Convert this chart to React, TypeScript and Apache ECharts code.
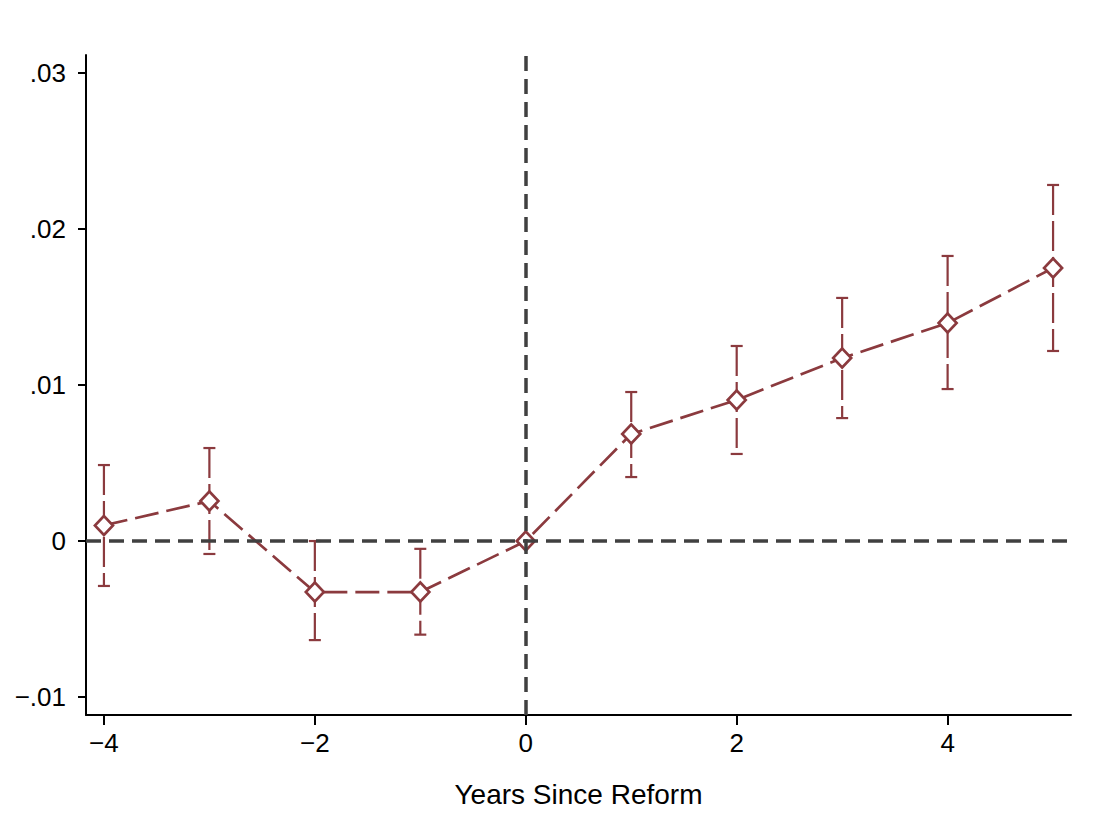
import React, { useEffect, useRef } from "react";
import * as echarts from "echarts";

const years = [-4, -3, -2, -1, 0, 1, 2, 3, 4, 5];
const coef = [0.001, 0.00256, -0.00327, -0.00327, 0, 0.00686, 0.00904, 0.01173, 0.01397, 0.0175];
const ciLow = [-0.00288, -0.00083, -0.00635, -0.006, null, 0.0041, 0.00558, 0.00788, 0.00974, 0.01218];
const ciHigh = [0.00487, 0.00596, 0, -0.0005, null, 0.00955, 0.0125, 0.01558, 0.01827, 0.02282];
const xTicks = [-4, -2, 0, 2, 4];
const yTicks = [-0.01, 0, 0.01, 0.02, 0.03];

const MAROON = "#8b3a3e";
const GRAY = "#404040";
const FONT = "Liberation Sans";

function fmtY(v: number): string {
  if (Math.abs(v) < 1e-9) return "0";
  const s = Math.abs(v).toFixed(2).replace(/^0/, "");
  return (v < 0 ? "\u2212" : "") + s;
}
function fmtX(v: number): string {
  return (v < 0 ? "\u2212" : "") + Math.abs(v);
}

export default function App() {
  const ref = useRef<HTMLDivElement>(null);
  useEffect(() => {
    document.body.style.margin = "0";
    if (!ref.current) return;
    const chart = echarts.init(ref.current, null, { renderer: "svg" });
    const errData = years
      .map((y, i) => [y, ciLow[i], ciHigh[i]])
      .filter((d) => d[1] !== null && d[2] !== null);
    chart.setOption({
      animation: false,
      backgroundColor: "#ffffff",
      grid: { left: 86, right: 29, top: 55, bottom: 107, containLabel: false },
      xAxis: {
        type: "value",
        min: -4.17,
        max: 5.17,
        name: "Years Since Reform",
        nameLocation: "middle",
        nameGap: 65,
        nameTextStyle: { fontFamily: FONT, fontSize: 28, color: "#000" },
        axisLine: { show: true, onZero: false, lineStyle: { color: "#000", width: 2 } },
        axisTick: { show: true, length: 10, lineStyle: { color: "#000", width: 2 }, customValues: xTicks },
        axisLabel: {
          fontFamily: FONT,
          fontSize: 26,
          color: "#000",
          margin: 15,
          customValues: xTicks,
          formatter: (v: number) => fmtX(v),
        },
        splitLine: { show: false },
      },
      yAxis: {
        type: "value",
        min: -0.01115,
        max: 0.03115,
        axisLine: { show: true, onZero: false, lineStyle: { color: "#000", width: 2 } },
        axisTick: { show: true, length: 8, lineStyle: { color: "#000", width: 2 }, customValues: yTicks },
        axisLabel: {
          fontFamily: FONT,
          fontSize: 26,
          color: "#000",
          margin: 20,
          customValues: yTicks,
          formatter: (v: number) => fmtY(v),
        },
        splitLine: { show: false },
      },
      series: [
        {
          type: "line",
          data: [],
          silent: true,
          markLine: {
            silent: true,
            symbol: "none",
            label: { show: false },
            lineStyle: { color: GRAY, width: 3.5, type: [15, 8] },
            data: [{ yAxis: 0 }, { xAxis: 0 }],
          },
          z: 1,
        },
        {
          type: "custom",
          data: errData,
          z: 2,
          renderItem: (params: any, api: any) => {
            const x = api.value(0);
            const lo = api.coord([x, api.value(1)]);
            const hi = api.coord([x, api.value(2)]);
            const cap = 6;
            const st = { stroke: MAROON, lineWidth: 2.2 };
            return {
              type: "group",
              children: [
                {
                  type: "line",
                  shape: { x1: hi[0], y1: hi[1], x2: lo[0], y2: lo[1] },
                  style: { ...st, lineDash: [30, 6] },
                },
                { type: "line", shape: { x1: hi[0] - cap, y1: hi[1], x2: hi[0] + cap, y2: hi[1] }, style: st },
                { type: "line", shape: { x1: lo[0] - cap, y1: lo[1], x2: lo[0] + cap, y2: lo[1] }, style: st },
              ],
            };
          },
        },
        {
          type: "line",
          data: years.map((y, i) => [y, coef[i]]),
          symbol: "diamond",
          symbolSize: [18, 19],
          showSymbol: true,
          lineStyle: { color: MAROON, width: 2.7, type: [24, 8] },
          itemStyle: { color: "#ffffff", borderColor: MAROON, borderWidth: 2.7 },
          z: 3,
        },
      ],
    });
    return () => chart.dispose();
  }, []);
  return <div ref={ref} style={{ width: 1100, height: 822 }} />;
}
